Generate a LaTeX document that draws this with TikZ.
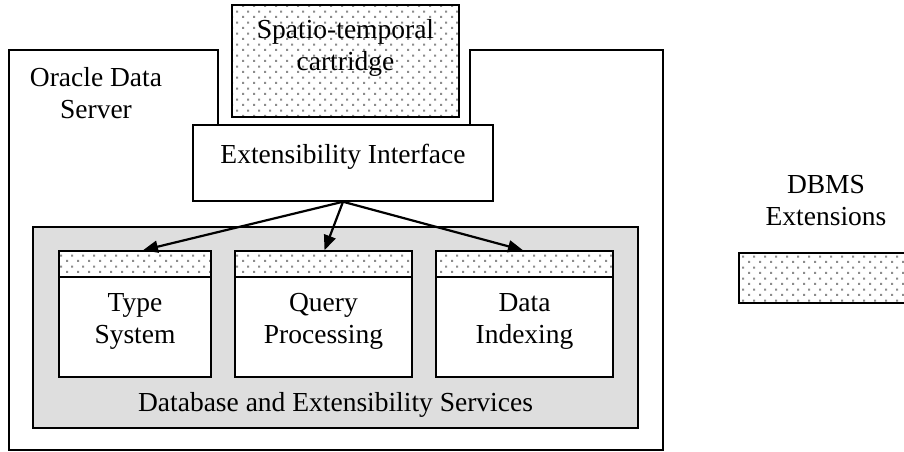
\documentclass[tikz,border=0pt]{standalone}
\usepackage{fontspec}
\setmainfont{Liberation Serif}
\usetikzlibrary{patterns,arrows.meta}
\pgfdeclarepatternformonly{sdots}{\pgfpointorigin}{\pgfpoint{11pt}{11.2pt}}{\pgfpoint{11pt}{11.2pt}}{%
  \pgfpathrectangle{\pgfpoint{0pt}{0pt}}{\pgfpoint{2.2pt}{2.2pt}}%
  \pgfpathrectangle{\pgfpoint{5.5pt}{5.6pt}}{\pgfpoint{2.2pt}{2.2pt}}%
  \pgfusepath{fill}}
\tikzset{
  box/.style={draw=black, line width=1.5pt, fill=white, inner sep=0pt},
  dotbox/.style={draw=black, line width=1.5pt, inner sep=0pt, preaction={fill=white}, pattern=sdots, pattern color=black!45},
  txt/.style={font=\fontsize{27.5}{32}\selectfont, align=center, inner sep=0pt},
  arr/.style={line width=2.2pt, -{Triangle[length=15pt,width=12pt]}},
}
\begin{document}
\begin{tikzpicture}[x=1pt,y=-1pt]
\useasboundingbox (0,0) rectangle (904,452);
\clip (0,0) rectangle (904,452);
\fill[white] (0,0) rectangle (904,452);
% outer Oracle Data Server box
\draw[line width=1.5pt] (218,125) -- (218,50) -- (9,50) -- (9,450) -- (663,450) -- (663,50) -- (470,50) -- (470,125);
\node[txt] (ods) at (96,93) {Oracle Data\\Server};
% cartridge
\node[dotbox, minimum width=227pt, minimum height=112pt] (cart) at (345.5,61) {};
\node[txt] (carttxt) at (345.5,48) {Spatio-temporal\\cartridge};
% extensibility interface
\node[box, minimum width=300pt, minimum height=76pt] (ei) at (343,163) {};
\node[txt] (eitxt) at (343,157) {Extensibility Interface};
% services box
\node[draw=black, line width=1.5pt, fill=black!13, inner sep=0pt, minimum width=605pt, minimum height=201pt] (svc) at (335.5,327.5) {};
\node[txt] (svctxt) at (335.5,405) {Database and Extensibility Services};
% sub boxes
\foreach \n/\cx/\w/\t in {ts/135/152/{Type\\System}, qp/323.5/177/{Query\\Processing}, di/524.5/177/{Data\\Indexing}}{
  \node[box, minimum width=\w pt, minimum height=100pt] (\n) at (\cx,327) {};
  \node[dotbox, minimum width=\w pt, minimum height=26pt] (\n s) at (\cx,264) {};
  \node[txt] (\n t) at (\cx,321.5) {\t};
}
% arrows
\draw[arr] (ei.south) -- ([xshift=8pt]tss.north);
\draw[arr] (ei.south) -- ([xshift=1pt]qps.north);
\draw[arr] (ei.south) -- ([xshift=-1.5pt]dis.north);
% legend
\node[txt] (legtxt) at (826,201) {DBMS\\Extensions};
\node[dotbox, minimum width=200pt, minimum height=50pt, anchor=north west] (leg) at (738,252) {};
\end{tikzpicture}
\end{document}
